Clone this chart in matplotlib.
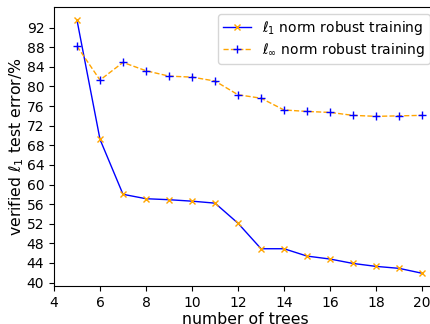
import matplotlib
matplotlib.use("Agg")
import matplotlib.pyplot as plt

trees = [5, 6, 7, 8, 9, 10, 11, 12, 13, 14, 15, 16, 17, 18, 19, 20]
l1_err = [93.5, 69.2, 58.0, 57.1, 56.9, 56.6, 56.2, 52.1, 46.9, 46.9, 45.4, 44.8, 43.9, 43.3, 42.9, 41.9]
linf_err = [88.2, 81.3, 84.9, 83.2, 82.1, 81.9, 81.1, 78.3, 77.6, 75.2, 74.9, 74.7, 74.1, 73.9, 74.0, 74.1]
xticks = [4, 6, 8, 10, 12, 14, 16, 18, 20]
yticks = list(range(40, 93, 4))

fig = plt.figure(figsize=(4.30, 3.24), dpi=100)
ax = fig.add_axes([54 / 430, 38 / 324, (437 - 54) / 430, (286 - 7) / 324])

ax.plot(trees, l1_err, color='blue', linestyle='-', linewidth=1,
        marker='x', markersize=4.5, markeredgecolor='orange', markerfacecolor='orange',
        label=r'$\ell_1$ norm robust training')
ax.plot(trees, linf_err, color='orange', linestyle='--', linewidth=1,
        marker='+', markersize=5.5, markeredgecolor='blue', markerfacecolor='blue',
        label=r'$\ell_\infty$ norm robust training')

ax.set_xlim(4, 20.65)
ax.set_ylim(39.3, 96.2)
ax.set_xticks(xticks)
ax.set_yticks(yticks)
ax.tick_params(labelsize=10)
ax.set_xlabel('number of trees', fontsize=11.3, labelpad=2)
ax.set_ylabel(r'verified $\ell_1$ test error/%', fontsize=11.3, labelpad=0.5)
ax.legend(loc='upper right', fontsize=10, labelspacing=0.3, borderpad=0.35)

fig.savefig('out.png', dpi=100)
